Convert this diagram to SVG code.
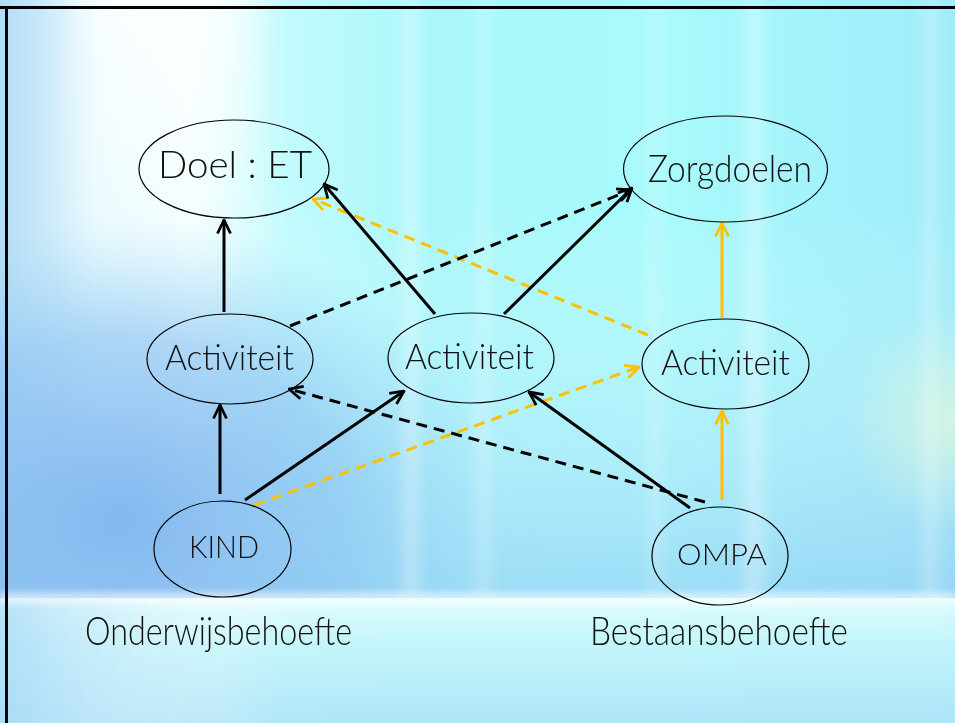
<svg xmlns="http://www.w3.org/2000/svg" width="955" height="723" viewBox="0 0 955 723">
<defs>
  <linearGradient id="base" x1="0" y1="0" x2="1" y2="0">
    <stop offset="0" stop-color="#b2dcf6"/>
    <stop offset="0.1" stop-color="#e6f9fe"/>
    <stop offset="0.2" stop-color="#f2feff"/>
    <stop offset="0.3" stop-color="#c2fbfd"/>
    <stop offset="0.45" stop-color="#a9f7fb"/>
    <stop offset="0.7" stop-color="#a8fafc"/>
    <stop offset="1" stop-color="#9fecf9"/>
  </linearGradient>
  <linearGradient id="fadeDown" x1="0" y1="0" x2="0" y2="1">
    <stop offset="0" stop-color="#ffffff" stop-opacity="0"/>
    <stop offset="0.35" stop-color="#ffffff" stop-opacity="0"/>
    <stop offset="1" stop-color="#8cc4f2" stop-opacity="1"/>
  </linearGradient>
  <linearGradient id="whiteTop" x1="0" y1="0" x2="0" y2="1">
    <stop offset="0" stop-color="#ffffff" stop-opacity="0.85"/>
    <stop offset="0.5" stop-color="#ffffff" stop-opacity="0.5"/>
    <stop offset="1" stop-color="#ffffff" stop-opacity="0"/>
  </linearGradient>
  <radialGradient id="blueLeft" cx="120" cy="520" r="380" gradientUnits="userSpaceOnUse" gradientTransform="translate(120 520) scale(1 0.8) translate(-120 -520)">
    <stop offset="0" stop-color="#7fb5ef" stop-opacity="0.95"/>
    <stop offset="0.6" stop-color="#86c0f1" stop-opacity="0.6"/>
    <stop offset="1" stop-color="#8fd0f4" stop-opacity="0"/>
  </radialGradient>
  <linearGradient id="bottom" x1="0" y1="0" x2="0" y2="1">
    <stop offset="0" stop-color="#e8fdff" stop-opacity="0.9"/>
    <stop offset="0.35" stop-color="#c6f6fb" stop-opacity="0.9"/>
    <stop offset="1" stop-color="#aee4f8" stop-opacity="0.9"/>
  </linearGradient>
  <linearGradient id="bottomH" x1="0" y1="0" x2="1" y2="0">
    <stop offset="0" stop-color="#a8d8f6" stop-opacity="0.7"/>
    <stop offset="0.3" stop-color="#ffffff" stop-opacity="0"/>
    <stop offset="1" stop-color="#ffffff" stop-opacity="0"/>
  </linearGradient>
  <radialGradient id="yellow" cx="955" cy="420" r="110" gradientUnits="userSpaceOnUse">
    <stop offset="0" stop-color="#eefcd4" stop-opacity="0.6"/>
    <stop offset="1" stop-color="#eefcd4" stop-opacity="0"/>
  </radialGradient>
  <filter id="blur8" x="-50%" y="-50%" width="200%" height="200%"><feGaussianBlur stdDeviation="8"/></filter>
  <filter id="blur20" x="-50%" y="-50%" width="200%" height="200%"><feGaussianBlur stdDeviation="20"/></filter>
  <filter id="blur3" x="-50%" y="-50%" width="200%" height="200%"><feGaussianBlur stdDeviation="3"/></filter>
  <marker id="ab" viewBox="0 0 16 16" refX="15" refY="8" markerWidth="16" markerHeight="16" markerUnits="userSpaceOnUse" orient="auto">
    <path d="M1.5,1.5 L15,8 L1.5,14.5" fill="none" stroke="#000" stroke-width="2.8"/>
  </marker>
  <marker id="ao" viewBox="0 0 16 16" refX="15" refY="8" markerWidth="16" markerHeight="16" markerUnits="userSpaceOnUse" orient="auto">
    <path d="M1.5,1.5 L15,8 L1.5,14.5" fill="none" stroke="#ffc000" stroke-width="2.8"/>
  </marker>
  <style>
    .node { fill: none; stroke: #000; stroke-width: 1.2; }
    .lbl { font-family: "Lato", "Liberation Sans", sans-serif; font-weight: 300; fill: #111; }
    .s { fill: none; stroke: #000; stroke-width: 3; marker-end: url(#ab); }
    .d { fill: none; stroke: #000; stroke-width: 3; stroke-dasharray: 11 7; marker-end: url(#ab); }
    .os { fill: none; stroke: #ffc000; stroke-width: 3; marker-end: url(#ao); }
    .od { fill: none; stroke: #ffc000; stroke-width: 3; stroke-dasharray: 11 7; marker-end: url(#ao); }
  </style>
</defs>

<g id="background">
  <rect x="0" y="0" width="955" height="723" fill="url(#base)"/>
  <rect x="0" y="0" width="955" height="600" fill="url(#fadeDown)" opacity="0.55"/>
  <rect x="0" y="0" width="955" height="600" fill="url(#blueLeft)"/>
  <rect x="0" y="0" width="955" height="723" fill="url(#yellow)"/>
  <rect x="80" y="-40" width="170" height="340" fill="url(#whiteTop)" filter="url(#blur20)"/>
  <g filter="url(#blur8)" fill="#ffffff">
    <rect x="405" y="0" width="12" height="600" opacity="0.45"/>
    <rect x="478" y="0" width="10" height="600" opacity="0.35"/>
    <rect x="650" y="0" width="10" height="600" opacity="0.3"/>
    <rect x="745" y="0" width="18" height="600" opacity="0.35"/>
    <rect x="925" y="0" width="10" height="600" opacity="0.4"/>
  </g>
  <rect x="0" y="598" width="955" height="125" fill="url(#bottom)"/>
  <rect x="0" y="598" width="955" height="125" fill="url(#bottomH)"/>
  <rect x="0" y="592" width="955" height="12" fill="#ffffff" opacity="0.55" filter="url(#blur3)"/>
  <path d="M0,7.5 H955 M6.5,7.5 V723" stroke="#000" stroke-width="3" fill="none"/>
</g>

<g id="connectors">
  <path class="s" d="M224,312 V220"/>
  <path class="s" d="M220,494 V405"/>
  <path class="s" d="M245,500 L404,391"/>
  <path class="od" d="M254,505 L639,367"/>
  <path class="s" d="M690,508 L529,392"/>
  <path class="d" d="M705,502 L289,389"/>
  <path class="os" d="M722,500 V411"/>
  <path class="os" d="M722,318 V223"/>
  <path class="od" d="M648,335 L313,199"/>
  <path class="d" d="M290,326 L631,190"/>
  <path class="s" d="M504,314 L632,188"/>
  <path class="s" d="M435,314 L324,184"/>
</g>

<g id="doel">
  <ellipse class="node" cx="234" cy="169" rx="95" ry="49"/>
  <text class="lbl" x="158" y="178" font-size="38" textLength="154" lengthAdjust="spacingAndGlyphs">Doel : ET</text>
</g>
<g id="zorgdoelen">
  <ellipse class="node" cx="725.5" cy="169" rx="102" ry="53"/>
  <text class="lbl" x="648" y="182" font-size="38" textLength="164" lengthAdjust="spacingAndGlyphs">Zorgdoelen</text>
</g>
<g id="activiteit1">
  <ellipse class="node" cx="230" cy="359" rx="83" ry="45"/>
  <text class="lbl" x="165" y="370" font-size="36" textLength="129" lengthAdjust="spacingAndGlyphs">Activiteit</text>
</g>
<g id="activiteit2">
  <ellipse class="node" cx="471" cy="358" rx="83" ry="45"/>
  <text class="lbl" x="405" y="369" font-size="36" textLength="129" lengthAdjust="spacingAndGlyphs">Activiteit</text>
</g>
<g id="activiteit3">
  <ellipse class="node" cx="725.5" cy="364" rx="83.5" ry="45"/>
  <text class="lbl" x="661" y="375" font-size="36" textLength="129" lengthAdjust="spacingAndGlyphs">Activiteit</text>
</g>
<g id="kind">
  <ellipse class="node" cx="222.5" cy="549" rx="68.5" ry="48"/>
  <text class="lbl" x="189" y="558" font-size="31" textLength="70" lengthAdjust="spacingAndGlyphs">KIND</text>
</g>
<g id="ompa">
  <ellipse class="node" cx="720" cy="556" rx="68" ry="49"/>
  <text class="lbl" x="677" y="565" font-size="30" textLength="90" lengthAdjust="spacingAndGlyphs">OMPA</text>
</g>
<g id="labels">
  <text class="lbl" x="85" y="645" font-size="40" textLength="267" lengthAdjust="spacingAndGlyphs">Onderwijsbehoefte</text>
  <text class="lbl" x="590" y="645" font-size="40" textLength="258" lengthAdjust="spacingAndGlyphs">Bestaansbehoefte</text>
</g>
</svg>
